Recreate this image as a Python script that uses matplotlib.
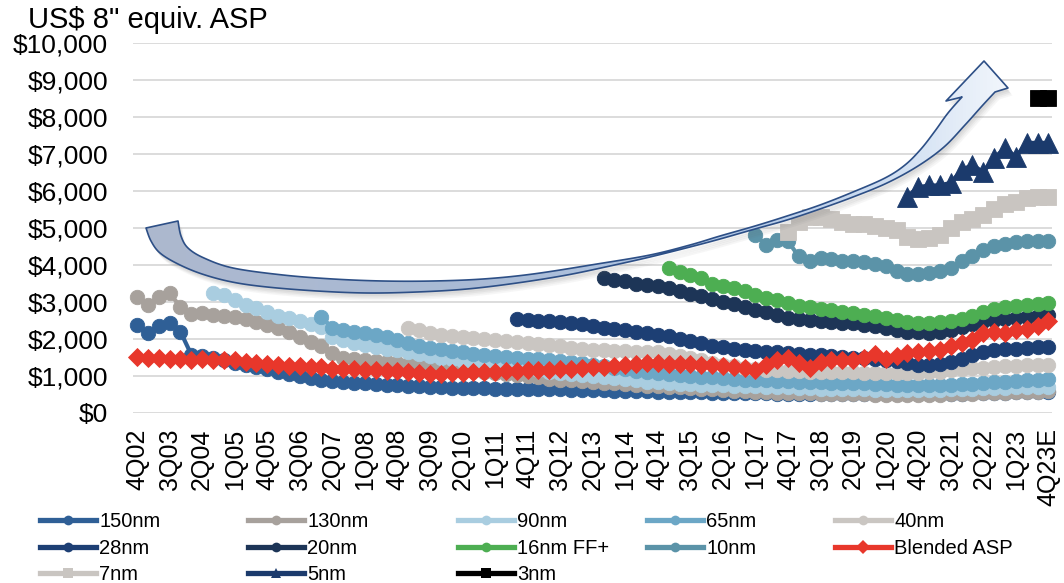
import numpy as np
import matplotlib
matplotlib.use("Agg")
import matplotlib.pyplot as plt
from matplotlib.lines import Line2D
from matplotlib.patches import Polygon
from matplotlib.colors import LinearSegmentedColormap

plt.rcParams['font.family'] = ['Liberation Sans', 'DejaVu Sans']

# ---------------------------------------------------------------------------
# Quarterly wafer ASP (US$, 8" equivalent), 4Q02 .. 4Q23E (85 quarters)
# Each node: first quarter index (0 = 4Q02) and its quarterly values
# ---------------------------------------------------------------------------
tick_labels = ['4Q02', '3Q03', '2Q04', '1Q05', '4Q05', '3Q06', '2Q07', '1Q08',
               '4Q08', '3Q09', '2Q10', '1Q11', '4Q11', '3Q12', '2Q13', '1Q14',
               '4Q14', '3Q15', '2Q16', '1Q17', '4Q17', '3Q18', '2Q19', '1Q20',
               '4Q20', '3Q21', '2Q22', '1Q23', '4Q23E']
n_quarters = 85

start_150 = 0
asp_150 = [2380, 2170, 2350, 2430, 2200, 1580, 1550, 1500, 1420, 1350,
           1300, 1240, 1180, 1120, 1050, 990, 950, 900, 860, 840,
           820, 800, 780, 770, 760, 740, 720, 700, 690, 680,
           675, 670, 665, 660, 655, 650, 648, 645, 642, 640,
           632, 625, 618, 610, 602, 595, 588, 582, 576, 570,
           565, 560, 555, 550, 545, 540, 536, 532, 528, 524,
           520, 518, 516, 514, 512, 510, 508, 506, 505, 504,
           503, 503, 505, 508, 512, 516, 522, 528, 535, 542,
           550, 556, 562, 568, 574]

start_130 = 0
asp_130 = [3140, 2920, 3140, 3240, 2870, 2680, 2690, 2660, 2630, 2600,
           2540, 2460, 2380, 2300, 2200, 2060, 1920, 1820, 1620, 1500,
           1470, 1440, 1410, 1380, 1350, 1320, 1290, 1260, 1230, 1200,
           1170, 1140, 1110, 1080, 1050, 1020, 990, 960, 930, 900,
           880, 860, 840, 820, 800, 780, 760, 740, 720, 700,
           690, 675, 660, 640, 620, 600, 585, 570, 558, 548,
           540, 534, 528, 522, 516, 510, 506, 502, 498, 495,
           492, 490, 492, 496, 500, 506, 514, 522, 530, 540,
           550, 560, 568, 576, 584]

start_90 = 7
asp_90 = [3240, 3190, 3050, 2920, 2830, 2720, 2620, 2560, 2480, 2400,
          2330, 2050, 1960, 1900, 1850, 1790, 1740, 1690, 1640, 1590,
          1540, 1490, 1450, 1410, 1370, 1330, 1290, 1250, 1210, 1180,
          1150, 1120, 1090, 1060, 1030, 1000, 970, 940, 910, 880,
          850, 825, 805, 790, 780, 770, 760, 750, 740, 730,
          720, 710, 700, 690, 680, 670, 662, 655, 650, 645,
          640, 635, 630, 625, 620, 620, 624, 630, 638, 646,
          655, 664, 673, 682, 690, 698, 706, 714]

start_65 = 17
asp_65 = [2600, 2300, 2250, 2200, 2150, 2100, 2050, 1980, 1900, 1820,
          1750, 1720, 1680, 1640, 1600, 1570, 1540, 1510, 1490, 1470,
          1450, 1430, 1400, 1370, 1340, 1300, 1260, 1220, 1180, 1140,
          1110, 1080, 1050, 1020, 1000, 980, 960, 940, 920, 900,
          890, 880, 870, 860, 850, 840, 830, 820, 815, 810,
          800, 790, 780, 770, 762, 758, 758, 762, 770, 782,
          796, 812, 828, 846, 864, 880, 896, 915]

start_40 = 25
asp_40 = [2300, 2230, 2170, 2120, 2090, 2060, 2030, 2000, 1970, 1940,
          1910, 1890, 1860, 1830, 1800, 1770, 1740, 1710, 1690, 1680,
          1670, 1660, 1655, 1650, 1600, 1540, 1480, 1420, 1360, 1310,
          1260, 1210, 1180, 1160, 1150, 1140, 1130, 1120, 1115, 1110,
          1100, 1095, 1090, 1085, 1080, 1080, 1080, 1085, 1095, 1120,
          1150, 1180, 1205, 1225, 1245, 1260, 1272, 1284, 1294, 1300]

start_28 = 35
asp_28 = [2530, 2520, 2500, 2480, 2460, 2430, 2400, 2350, 2300, 2270,
          2230, 2200, 2160, 2120, 2070, 2010, 1950, 1880, 1820, 1780,
          1740, 1700, 1680, 1660, 1640, 1620, 1600, 1580, 1560, 1540,
          1520, 1500, 1480, 1460, 1440, 1400, 1340, 1310, 1300, 1330,
          1380, 1450, 1560, 1640, 1700, 1720, 1740, 1760, 1780, 1790]

start_20 = 43
asp_20 = [3640, 3600, 3560, 3500, 3460, 3420, 3390, 3300, 3220, 3150,
          3080, 3000, 2950, 2860, 2780, 2720, 2650, 2580, 2530, 2510,
          2500, 2470, 2440, 2420, 2380, 2350, 2300, 2250, 2200, 2180,
          2160, 2180, 2250, 2330, 2400, 2480, 2520, 2550, 2580, 2600,
          2630, 2650]

start_16 = 49
asp_16 = [3910, 3800, 3730, 3650, 3500, 3420, 3370, 3300, 3200, 3120,
          3050, 2980, 2900, 2870, 2820, 2780, 2740, 2700, 2660, 2620,
          2580, 2520, 2470, 2440, 2430, 2450, 2480, 2540, 2620, 2720,
          2800, 2860, 2900, 2930, 2950, 2970]

start_10 = 57
asp_10 = [4810, 4540, 4680, 4640, 4230, 4100, 4200, 4150, 4120, 4100,
          4080, 4040, 3960, 3850, 3760, 3760, 3780, 3830, 3920, 4100,
          4250, 4400, 4500, 4580, 4620, 4650, 4660, 4650]

start_blend = 0
asp_blend = [1520, 1480, 1500, 1450, 1470, 1430, 1450, 1420, 1440, 1420,
             1380, 1350, 1330, 1300, 1280, 1260, 1240, 1230, 1200, 1200,
             1180, 1170, 1150, 1140, 1130, 1100, 1080, 1060, 1060, 1070,
             1080, 1100, 1110, 1120, 1130, 1140, 1150, 1160, 1170, 1180,
             1200, 1210, 1230, 1250, 1270, 1300, 1320, 1340, 1350, 1330,
             1320, 1330, 1300, 1290, 1270, 1250, 1220, 1150, 1300, 1420,
             1480, 1350, 1220, 1380, 1430, 1420, 1440, 1500, 1600, 1450,
             1550, 1620, 1650, 1680, 1700, 1820, 1900, 1980, 2150, 2200,
             2150, 2250, 2280, 2350, 2500]

start_7 = 60
asp_7 = [4900, 5150, 5300, 5300, 5250, 5150, 5100, 5100, 5050, 5000,
         4950, 4750, 4700, 4720, 4800, 5000, 5150, 5250, 5350, 5500,
         5650, 5700, 5800, 5850, 5850]

start_5 = 71
asp_5 = [5850, 6100, 6150, 6150, 6220, 6570, 6700, 6510, 6890, 7160,
         6920, 7300, 7300, 7300]

start_3 = 83
asp_3 = [8500, 8500]

# (label, start, values, colour, marker, marker size)
series = [
    ('150nm', start_150, asp_150, '#2F5F96', 'o', 10.4),
    ('130nm', start_130, asp_130, '#A7A19C', 'o', 10.4),
    ('90nm', start_90, asp_90, '#A9CDE0', 'o', 10.4),
    ('65nm', start_65, asp_65, '#6CA7C6', 'o', 10.4),
    ('40nm', start_40, asp_40, '#CAC6C2', 'o', 10.4),
    ('28nm', start_28, asp_28, '#1D3F74', 'o', 10.4),
    ('20nm', start_20, asp_20, '#1D3557', 'o', 10.4),
    ('16nm FF+', start_16, asp_16, '#4DAE52', 'o', 10.4),
    ('10nm', start_10, asp_10, '#5B93A8', 'o', 10.4),
    ('Blended ASP', start_blend, asp_blend, '#E8372B', 'D', 9.0),
    ('7nm', start_7, asp_7, '#C9C5C1', 's', 12.0),
    ('5nm', start_5, asp_5, '#1B3A6C', '^', 14.0),
    ('3nm', start_3, asp_3, '#000000', 's', 12.0),
]

W, H = 1064, 583
fig = plt.figure(figsize=(W / 100, H / 100), dpi=100)
ax = fig.add_axes([133 / W, (H - 413) / H, (1052 - 133) / W, (413 - 43) / H])

for label, start, vals, col, mk, ms in series:
    x = np.arange(start, start + len(vals))
    ax.plot(x, vals, color=col, lw=3.0, marker=mk, markersize=ms,
            markeredgewidth=0.6, markeredgecolor=col, label=label,
            clip_on=False, zorder=3)

ax.set_xlim(-0.37, 84.33)
ax.set_ylim(0, 10000)
ax.set_yticks(np.arange(0, 10001, 1000))
ax.set_yticklabels([f'${v:,.0f}' for v in np.arange(0, 10001, 1000)])
ax.set_xticks(np.arange(0, n_quarters, 3))
ax.set_xticklabels(tick_labels, rotation=90, va='top', ha='center')
ax.yaxis.grid(True, color='#D9D9D9', lw=1.3)
ax.set_axisbelow(True)
for s in ax.spines.values():
    s.set_visible(False)
ax.tick_params(axis='both', length=0, colors='#000000')
ax.tick_params(axis='y', pad=18, labelsize=19)
ax.tick_params(axis='x', pad=11, labelsize=18)

fig.text(28 / W, 1 - 28 / H, 'US$ 8" equiv. ASP', fontsize=21,
         ha='left', va='baseline')

# ---------------------------------------------------------------------------
# Legend: five columns laid out row by row
# ---------------------------------------------------------------------------
style = {lab: (col, mk) for lab, _, _, col, mk, _ in series}
columns = [(['150nm', '28nm', '7nm'], 40),
           (['130nm', '20nm', '5nm'], 248),
           (['90nm', '16nm FF+', '3nm'], 458),
           (['65nm', '10nm'], 647),
           (['40nm', 'Blended ASP'], 835)]
for labels, xpix in columns:
    handles = [Line2D([], [], color=style[l][0], lw=3.8, marker=style[l][1],
                      markersize=7, markeredgewidth=0) for l in labels]
    fig.legend(handles, labels, loc='upper left',
               bbox_to_anchor=(xpix / W, 1 - 512 / H), frameon=False,
               fontsize=14.5, handlelength=2.8, handletextpad=0.15,
               labelspacing=0.38, borderpad=0, borderaxespad=0)

# ---------------------------------------------------------------------------
# Curved trend arrow (drawn in figure pixel space)
# ---------------------------------------------------------------------------
ov = fig.add_axes([0, 0, 1, 1], zorder=5)
ov.set_xlim(0, W)
ov.set_ylim(H, 0)
ov.axis('off')
ov.patch.set_alpha(0)


def smooth(pts, n=12):
    p = np.asarray(pts, dtype=float)
    p = np.vstack([p[0], p, p[-1]])
    out = []
    for i in range(1, len(p) - 2):
        p0, p1, p2, p3 = p[i - 1], p[i], p[i + 1], p[i + 2]
        for t in np.linspace(0, 1, n, endpoint=False):
            t2, t3 = t * t, t * t * t
            out.append(0.5 * ((2 * p1) + (-p0 + p2) * t +
                              (2 * p0 - 5 * p1 + 4 * p2 - p3) * t2 +
                              (-p0 + 3 * p1 - 3 * p2 + p3) * t3))
    out.append(p[-2])
    return np.array(out)


outer = smooth([(146, 228), (151, 241), (160, 253), (178, 264), (202, 274),
                (232, 282), (267, 287), (317, 291), (367, 293), (417, 292),
                (467, 289), (517, 283), (567, 275), (610, 266), (650, 257),
                (690, 247), (720, 239), (755, 229), (787, 220), (820, 209),
                (853, 197), (887, 183), (918, 166), (944, 147), (965, 125),
                (982, 106), (995, 92)])
inner = smooth([(178, 221), (181, 236), (188, 248), (204, 258), (233, 268),
                (283, 275), (333, 279), (383, 281), (433, 281), (483, 279),
                (533, 274), (597, 264), (650, 255), (690, 245), (720, 236),
                (755, 226), (787, 216), (820, 205), (853, 192), (885, 178),
                (905, 165), (921, 149), (935, 131), (948, 113), (962, 97)])
head = np.array([(1008, 88), (984, 61), (946, 101)])
outline = np.vstack([outer, head, inner[::-1]])

# soft drop shadow
for k, a in enumerate([0.07, 0.07, 0.06, 0.05]):
    ov.add_patch(Polygon(outline + np.array([1.5 + k, 3 + 1.5 * k]),
                         closed=True, fc='#606060', ec='none', alpha=a,
                         zorder=1))

body = Polygon(outline, closed=True, fc='none', ec='#2D4F86', lw=1.2,
               zorder=3, joinstyle='round')
ov.add_patch(body)
clip = Polygon(outline, closed=True, fc='none', ec='none',
               transform=ov.transData)
ov.add_patch(clip)
cmap = LinearSegmentedColormap.from_list(
    'ribbon', [(0.0, '#ADB8CE'), (0.4, '#A9BBD6'), (0.7, '#B5CBE9'),
               (0.88, '#D3E1F3'), (1.0, '#F3F7FC')])
grad = np.tile(np.linspace(0, 1, 256), (2, 1))
im = ov.imshow(grad, cmap=cmap, extent=(140, 1012, 300, 55), aspect='auto',
               zorder=2, interpolation='bilinear')
im.set_clip_path(clip)
ov.set_xlim(0, W)
ov.set_ylim(H, 0)

fig.savefig('out.png', dpi=100)
